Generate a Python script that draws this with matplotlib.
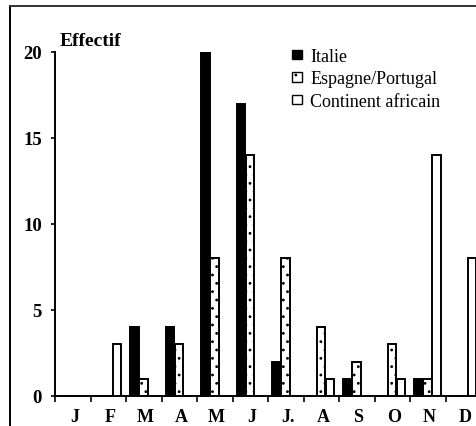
import matplotlib
matplotlib.use("Agg")
import matplotlib.pyplot as plt
import numpy as np
from matplotlib.lines import Line2D
from matplotlib.patches import Patch

# ─── data ────────────────────────────────────────────────────────────────────

months   = ["J", "F", "M", "A", "M", "J", "J.", "A", "S", "O", "N", "D"]
italie   = [0, 0, 4, 4, 20, 17, 2, 0, 1, 0, 1, 0]
espagne  = [0, 0, 1, 3, 8, 14, 8, 4, 2, 3, 1, 0]
afrique  = [0, 3, 0, 0, 0, 0, 0, 1, 0, 1, 14, 8]
yticks   = [0, 5, 10, 15, 20]
series_labels = ["Italie", "Espagne/Portugal", "Continent africain"]

# ─── style ───────────────────────────────────────────────────────────────────

W, H = 476, 427
SERIF = "Liberation Serif"
EDGE_LW = 1.4
BAR_W = 0.24

plt.rcParams["font.family"] = SERIF
plt.rcParams["hatch.linewidth"] = 0.8

fig = plt.figure(figsize=(W / 100, H / 100), dpi=100)
ax = fig.add_axes([55 / W, 30 / H, 426 / W, 344 / H])

x = np.arange(len(months))
ax.bar(x + 0.12, italie, BAR_W, align="edge", color="black",
       edgecolor="black", lw=EDGE_LW)
ax.bar(x + 0.37, espagne, BAR_W, align="edge", color="white",
       edgecolor="black", lw=EDGE_LW, hatch="..")
ax.bar(x + 0.62, afrique, BAR_W, align="edge", color="white",
       edgecolor="black", lw=EDGE_LW)

ax.set_xlim(0, 12)
ax.set_ylim(0, 20)
for s in ("top", "right"):
    ax.spines[s].set_visible(False)
for s in ("left", "bottom"):
    ax.spines[s].set_linewidth(1.4)

ax.set_yticks(yticks)
ax.set_yticklabels([str(v) for v in yticks], fontsize=13.5, fontweight="bold")
ax.tick_params(axis="y", direction="out", length=3, width=1.2, pad=6.5)

ax.set_xticks(np.arange(13))
ax.set_xticklabels([])
ax.set_xticks(x + 0.55, minor=True)
ax.set_xticklabels(months, minor=True, fontsize=13, fontweight="bold")
ax.tick_params(axis="x", which="major", direction="out", length=4, width=1.2)
ax.tick_params(axis="x", which="minor", length=0, pad=9)

fig.text(60 / W, 1 - 46 / H, "Effectif", fontsize=14, fontweight="bold",
         ha="left", va="baseline")

handles = [
    Patch(facecolor="black", edgecolor="black", lw=1.0),
    Patch(facecolor="white", edgecolor="black", lw=1.0, hatch=".."),
    Patch(facecolor="white", edgecolor="black", lw=1.0),
]
fig.legend(handles, series_labels, loc="upper left",
           bbox_to_anchor=(292 / W, 1 - 49 / H), frameon=False,
           fontsize=13, handlelength=0.55, handleheight=0.4,
           handletextpad=0.45, labelspacing=0.3, borderaxespad=0,
           borderpad=0)

# scanned page frame (left and top edges)
fig.add_artist(Line2D([10 / W, 10 / W], [0, 1 - 7 / H], color="black",
                      lw=1.4, transform=fig.transFigure))
fig.add_artist(Line2D([10 / W, 1], [1 - 7 / H, 1 - 7 / H], color="#333333",
                      lw=1.4, transform=fig.transFigure))

fig.savefig("out.png", dpi=100)
